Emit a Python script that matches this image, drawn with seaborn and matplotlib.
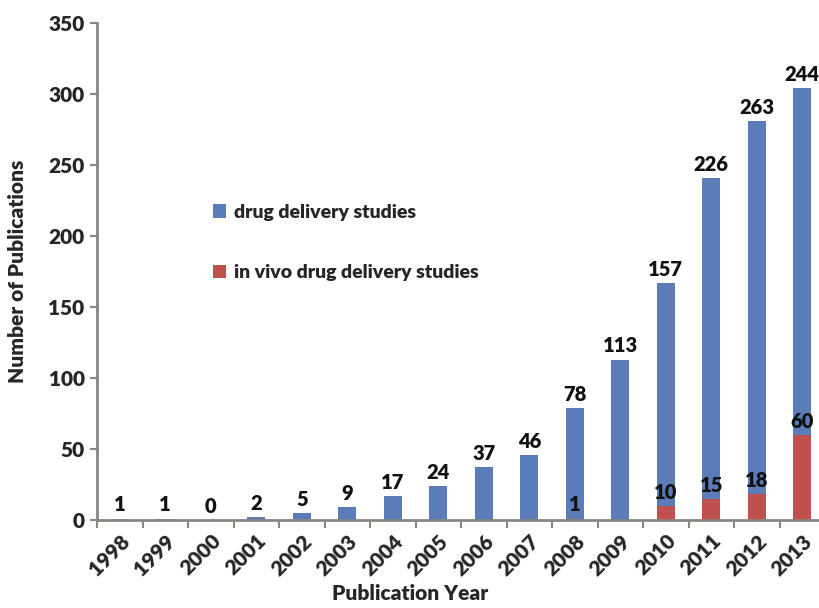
import matplotlib
matplotlib.use("Agg")
import matplotlib.pyplot as plt
import seaborn as sns
import pandas as pd
import numpy as np

years = ["1998", "1999", "2000", "2001", "2002", "2003", "2004", "2005",
         "2006", "2007", "2008", "2009", "2010", "2011", "2012", "2013"]
drug_delivery = [1, 1, 0, 2, 5, 9, 17, 24, 37, 46, 78, 113, 157, 226, 263, 244]
in_vivo = [0, 0, 0, 0, 0, 0, 0, 0, 0, 0, 1, 0, 10, 15, 18, 60]
y_ticks = [0, 50, 100, 150, 200, 250, 300, 350]

BLUE = "#5A7DB9"
RED = "#C0504D"
SPINE = "#8A8580"
W = "heavy"

sns.set_theme(style="white")
plt.rcParams["font.family"] = ["Lato", "DejaVu Sans"]
plt.rcParams["font.weight"] = "bold"

df = pd.DataFrame({"year": years, "dd": drug_delivery, "iv": in_vivo})

fig = plt.figure(figsize=(8.19, 6.08), dpi=100)
ax = fig.add_axes([97 / 819, 88 / 608, 728 / 819, 497 / 608])

sns.barplot(data=df, x="year", y="iv", color=RED, saturation=1, width=0.4,
            ax=ax, label="in vivo drug delivery studies", linewidth=0)
sns.barplot(data=df, x="year", y="dd", color=BLUE, saturation=1, width=0.4,
            ax=ax, bottom=df["iv"].values, label="drug delivery studies",
            linewidth=0)

red_c, blue_c = ax.containers[0], ax.containers[1]
ax.bar_label(blue_c, labels=[str(v) for v in drug_delivery], padding=3,
             fontsize=14.5, fontweight=W, color="#111111")
ax.bar_label(red_c, labels=[str(v) if v > 0 else "" for v in in_vivo],
             padding=3, fontsize=14.5, fontweight=W, color="#111111")

ax.set_xlim(-0.5, len(years) - 0.5)
ax.set_ylim(0, 350)
ax.set_yticks(y_ticks)
ax.set_yticklabels([str(t) for t in y_ticks], fontsize=15, fontweight=W)
ax.set_xticks(range(len(years)))
ax.set_xticklabels(years, rotation=45, ha="right", rotation_mode="anchor",
                   fontsize=15, fontweight=W)
ax.set_xticks(np.arange(len(years) + 1) - 0.5, minor=True)
ax.tick_params(axis="x", which="major", length=0, pad=8)
ax.tick_params(axis="x", which="minor", length=6, width=1.5, color=SPINE,
               direction="out", bottom=True)
ax.tick_params(axis="y", length=5, width=1.5, color=SPINE, direction="out",
               left=True, pad=4)

for s in ["top", "right"]:
    ax.spines[s].set_visible(False)
for s in ["left", "bottom"]:
    ax.spines[s].set_color(SPINE)
    ax.spines[s].set_linewidth(2)

ax.set_xlabel("Publication Year", fontsize=15, fontweight=W)
ax.set_ylabel("Number of Publications", fontsize=15, fontweight=W)
ax.xaxis.set_label_coords((410 - 97) / 728, -(594 - 520) / 497)
ax.yaxis.set_label_coords(-(97 - 18) / 728, 0.5)
ax.xaxis.label.set_verticalalignment("center")
ax.yaxis.label.set_verticalalignment("center")

handles, labels = ax.get_legend_handles_labels()
order = [labels.index("drug delivery studies"),
         labels.index("in vivo drug delivery studies")]
ax.legend([handles[i] for i in order], [labels[i] for i in order],
          loc="upper left", bbox_to_anchor=(0.135, 0.672), frameon=False,
          handlelength=0.7, handleheight=0.7, labelspacing=2.25,
          handletextpad=0.4, prop={"weight": W, "size": 14})

fig.savefig("out.png", dpi=100, facecolor="white")
